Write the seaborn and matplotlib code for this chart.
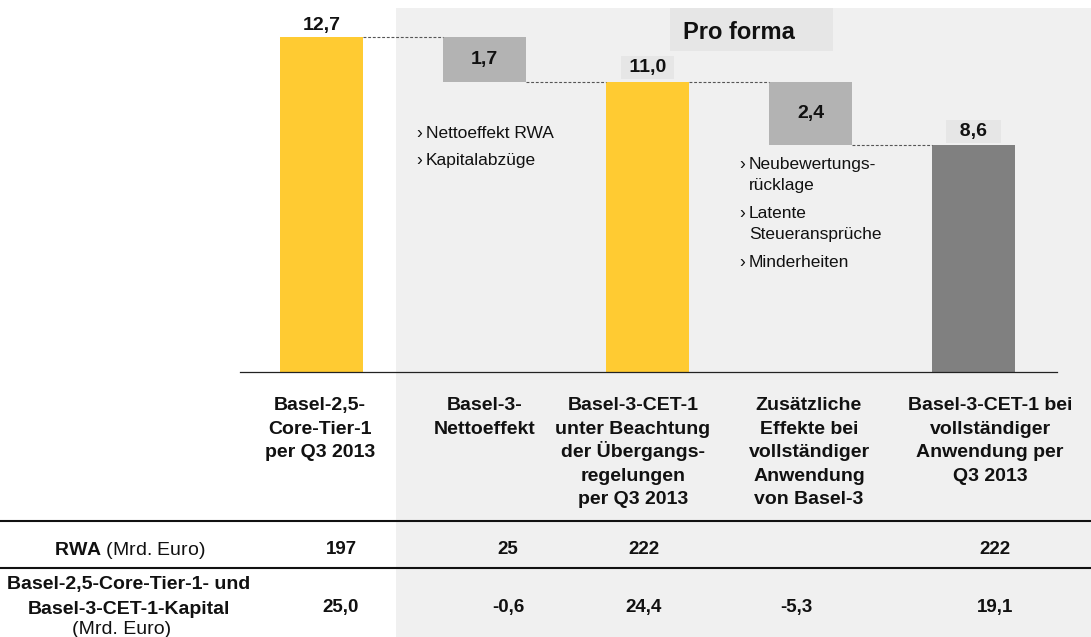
import matplotlib
matplotlib.use("Agg")
import matplotlib.pyplot as plt
import seaborn as sns
import pandas as pd
from matplotlib.patches import Rectangle
from matplotlib.lines import Line2D

# ---------------- data ----------------
categories = [
    "Basel-2,5-\nCore-Tier-1\nper Q3 2013",
    "Basel-3-\nNettoeffekt",
    "Basel-3-CET-1\nunter Beachtung\nder Übergangs-\nregelungen\nper Q3 2013",
    "Zusätzliche\nEffekte bei\nvollständiger\nAnwendung\nvon Basel-3",
    "Basel-3-CET-1 bei\nvollständiger\nAnwendung per\nQ3 2013",
]
steps = ["total", "delta", "total", "delta", "total"]
values = [12.7, -1.7, 11.0, -2.4, 8.6]
value_labels = ["12,7", "1,7", "11,0", "2,4", "8,6"]
rwa_values = ["197", "25", "222", "", "222"]
capital_values = ["25,0", "-0,6", "24,4", "-5,3", "19,1"]
bullets_net = ["Nettoeffekt RWA", "Kapitalabzüge"]
bullets_full = ["Neubewertungs-\nrücklage", "Latente\nSteueransprüche", "Minderheiten"]
row_label_rwa = r"$\mathbf{RWA}$ (Mrd. Euro)"
row_label_cap = "Basel-2,5-Core-Tier-1- und\nBasel-3-CET-1-Kapital"
row_label_cap_unit = "(Mrd. Euro)"
pro_forma_title = "Pro forma"

# ---------------- style ----------------
sns.set_theme(style="white")
plt.rcParams["font.family"] = ["Liberation Sans", "DejaVu Sans"]
plt.rcParams["mathtext.fontset"] = "custom"
plt.rcParams["mathtext.rm"] = "Liberation Sans"
plt.rcParams["mathtext.bf"] = "Liberation Sans:bold"

YELLOW = "#FFCB32"
LIGHT = "#B3B3B3"
DARK = "#808080"
REGION = "#F0F0F0"
BOX = "#E6E6E6"
INK = "#111111"

W, H = 1091, 637
fig = plt.figure(figsize=(W / 100, H / 100), dpi=100)
fig.patch.set_facecolor("white")


def fx(px):
    return px / W


def fy(py):
    return 1 - py / H


def lines_text(x, first_center, spacing, text, size, weight="normal", ha="center"):
    """Draw multi-line text one line at a time (first line centred on first_center, px)."""
    cap = 0.716 * size * 100 / 72
    for k, line in enumerate(text.split("\n")):
        base = first_center + k * spacing + cap / 2
        fig.text(fx(x), fy(base), line, ha=ha, va="baseline", fontsize=size,
                 fontweight=weight, color=INK)


# pro-forma background region
fig.add_artist(Rectangle((fx(396), 0), 1 - fx(396), fy(8), transform=fig.transFigure,
                         facecolor=REGION, edgecolor="none", zorder=-10))
# Pro forma title box
fig.add_artist(Rectangle((fx(670), fy(51)), fx(833) - fx(670), fy(8) - fy(51),
                         transform=fig.transFigure, facecolor=BOX, edgecolor="none", zorder=-9))
lines_text(739, 31, 0, pro_forma_title, 17, "bold")

# ---------------- waterfall ----------------
level = 0.0
rows = []
for cat, st, v in zip(categories, steps, values):
    if st == "total":
        bottom, height = 0.0, v
        level = v
        color = YELLOW if cat != categories[-1] else DARK
    else:
        new_level = level + v
        bottom, height = new_level, -v
        level = new_level
        color = LIGHT
    rows.append(dict(cat=cat, bottom=bottom, height=height, color=color, level=level))
df = pd.DataFrame(rows)

ax = fig.add_axes([fx(240), fy(372), fx(1057) - fx(240), 364 / H])
ax.set_facecolor("none")
bar_w = 0.51
for _, r in df.iterrows():
    sns.barplot(x=[r["cat"]], y=[r["height"]], order=categories, color=r["color"],
                saturation=1, width=bar_w, bottom=r["bottom"], errorbar=None, ax=ax,
                edgecolor="none", linewidth=0)

ax.set_xlim(-0.5, 4.512)
ax.set_ylim(0, 364 / 26.4)
ax.set_xticks([])
ax.set_yticks([])
ax.set_xlabel("")
ax.set_ylabel("")
for s in ["top", "left", "right"]:
    ax.spines[s].set_visible(False)
ax.spines["bottom"].set_color("#222222")
ax.spines["bottom"].set_linewidth(0.9)

# dashed connectors
for i in range(len(df) - 1):
    lv = df["level"].iloc[i]
    ax.plot([i + bar_w / 2, i + 1 - bar_w / 2], [lv, lv], color="#555555", lw=0.8,
            ls=(0, (2.6, 1.6)), zorder=3)

# value labels
for i, r in df.iterrows():
    lab = value_labels[i]
    if steps[i] == "delta":
        ax.text(i, r["bottom"] + r["height"] / 2, lab, ha="center", va="center",
                fontsize=14, fontweight="bold", color=INK)
    elif i == 0:
        ax.annotate(lab, (i, r["height"]), xytext=(0, 2), textcoords="offset points",
                    ha="center", va="bottom", fontsize=14, fontweight="bold", color=INK)
    else:
        padded = (" " + lab + " ") if len(lab) > 3 else ("  " + lab + "  ")
        ax.annotate(padded, (i, r["height"]), xytext=(0, 3.8), textcoords="offset points",
                    ha="center", va="bottom", fontsize=14, fontweight="bold", color=INK,
                    bbox=dict(boxstyle="square,pad=0.15", facecolor=BOX, edgecolor="none"))


# bullet annotations
def bullets(items, bx, tx, first, item_gap, line_gap):
    y = first
    for it in items:
        lines_text(bx, y, 0, "›", 12.5, ha="left")
        lines_text(tx, y, line_gap, it, 12.5, ha="left")
        y += item_gap + line_gap * it.count("\n")


bullets(bullets_net, 416, 426, 132, 27, 21)
bullets(bullets_full, 739, 749, 163, 28, 21)

# category labels
cat_x = [320, 485, 633, 809, 990]
for cx, lab in zip(cat_x, categories):
    lines_text(cx, 403, 23.6, lab, 14, "bold")

# table
for yl in [521, 568]:
    fig.add_artist(Line2D([0, 1], [fy(yl), fy(yl)], transform=fig.transFigure,
                          color=INK, lw=1.5))

fig.text(fx(129.5), fy(555), row_label_rwa, ha="center", va="baseline", fontsize=14,
         color=INK)
lines_text(129, 582, 25, row_label_cap, 14, "bold")
lines_text(122, 627, 0, row_label_cap_unit, 14)

val_x = [341, 508, 644, 796, 995]
for vx, a, b in zip(val_x, rwa_values, capital_values):
    if a:
        lines_text(vx, 547, 0, a, 13.5, "bold")
    if b:
        lines_text(vx, 605, 0, b, 13.5, "bold")

fig.savefig("out.png", dpi=100, facecolor="white")
